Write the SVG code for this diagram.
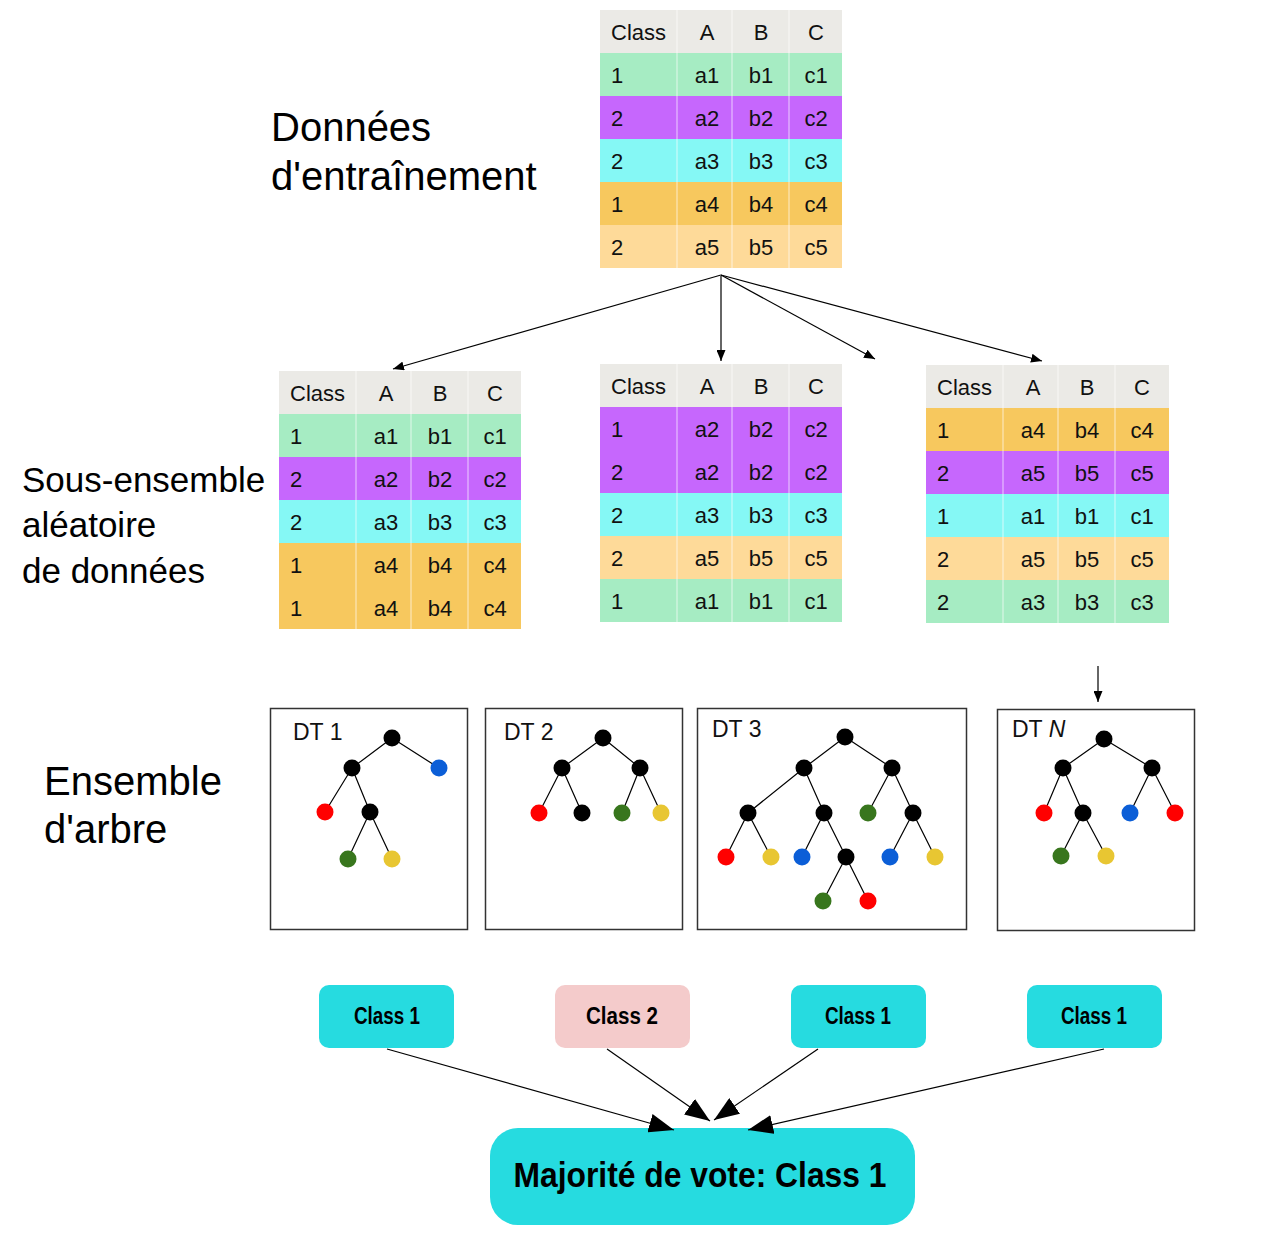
<svg xmlns="http://www.w3.org/2000/svg" width="1288" height="1240" viewBox="0 0 1288 1240">
<defs>
<style>
.hdr{fill:#EBEAE6}.g{fill:#A6ECC3}.p{fill:#C667FD}.c{fill:#85F8F5}.o{fill:#F7C85E}.l{fill:#FEDA99}
.sep{stroke:#FFFFFF;stroke-opacity:0.45;stroke-width:1.5;fill:none}
.t{font-family:"Liberation Sans",Arial,sans-serif;font-size:22px;fill:#111}
.m{text-anchor:middle}
.lab{font-family:"Liberation Sans",Arial,sans-serif;fill:#000}
.box{fill:#FFFFFF;stroke:#333;stroke-width:1.5}
.e{stroke:#000;stroke-width:1.2;fill:none}
.k{fill:#000}.R{fill:#FF0000}.B{fill:#0B5ED7}.G{fill:#38761D}.Y{fill:#E8C632}
.dt{font-family:"Liberation Sans",Arial,sans-serif;font-size:23px;fill:#111}
.cls{font-family:"Liberation Sans",Arial,sans-serif;font-weight:bold;font-size:23px;fill:#000;text-anchor:middle}
.big{font-size:35px}
.cy{fill:#26DBE0}.pk{fill:#F4CBCB}
.a1{stroke:#000;stroke-width:1.2;fill:none}
.a2{stroke:#666;stroke-width:2;fill:none}
</style>
<marker id="ms" markerUnits="userSpaceOnUse" markerWidth="11" markerHeight="9" refX="11" refY="4.5" orient="auto">
<path d="M0,0L11,4.5L0,9z" fill="#000"/>
</marker>
<marker id="ml" markerUnits="userSpaceOnUse" markerWidth="25" markerHeight="19" refX="25" refY="9.5" orient="auto">
<path d="M0,0L25,9.5L0,19z" fill="#000"/>
</marker>
</defs>
<rect width="1288" height="1240" fill="#FFFFFF"/>

<!-- side labels -->
<g id="label-train">
<text class="lab" x="271" y="141" font-size="40">Données</text>
<text class="lab" x="271" y="190" font-size="40">d'entraînement</text>
</g>
<g id="label-subset">
<text class="lab" x="22" y="492" font-size="35">Sous-ensemble</text>
<text class="lab" x="22" y="537" font-size="35">aléatoire</text>
<text class="lab" x="22" y="583" font-size="35">de données</text>
</g>
<g id="label-ensemble">
<text class="lab" x="44" y="795" font-size="40">Ensemble</text>
<text class="lab" x="44" y="843" font-size="40">d'arbre</text>
</g>

<!-- training table -->
<g id="table-train" transform="translate(600,10)">
<rect class="hdr" x="0" y="0" width="242" height="43"/>
<rect class="g" x="0" y="43" width="242" height="43"/>
<rect class="p" x="0" y="86" width="242" height="43"/>
<rect class="c" x="0" y="129" width="242" height="43"/>
<rect class="o" x="0" y="172" width="242" height="43"/>
<rect class="l" x="0" y="215" width="242" height="43"/>
<path class="sep" d="M77,0V258M132,0V258M189,0V258"/>
<text class="t" x="11" y="30">Class</text><text class="t m" x="107" y="30">A</text><text class="t m" x="161" y="30">B</text><text class="t m" x="216" y="30">C</text>
<text class="t" x="11" y="73">1</text><text class="t m" x="107" y="73">a1</text><text class="t m" x="161" y="73">b1</text><text class="t m" x="216" y="73">c1</text>
<text class="t" x="11" y="116">2</text><text class="t m" x="107" y="116">a2</text><text class="t m" x="161" y="116">b2</text><text class="t m" x="216" y="116">c2</text>
<text class="t" x="11" y="159">2</text><text class="t m" x="107" y="159">a3</text><text class="t m" x="161" y="159">b3</text><text class="t m" x="216" y="159">c3</text>
<text class="t" x="11" y="202">1</text><text class="t m" x="107" y="202">a4</text><text class="t m" x="161" y="202">b4</text><text class="t m" x="216" y="202">c4</text>
<text class="t" x="11" y="245">2</text><text class="t m" x="107" y="245">a5</text><text class="t m" x="161" y="245">b5</text><text class="t m" x="216" y="245">c5</text>
</g>

<!-- subset table 1 -->
<g id="table-sub1" transform="translate(279,371)">
<rect class="hdr" x="0" y="0" width="242" height="43"/>
<rect class="g" x="0" y="43" width="242" height="43"/>
<rect class="p" x="0" y="86" width="242" height="43"/>
<rect class="c" x="0" y="129" width="242" height="43"/>
<rect class="o" x="0" y="172" width="242" height="86"/>
<path class="sep" d="M77,0V258M132,0V258M189,0V258"/>
<text class="t" x="11" y="30">Class</text><text class="t m" x="107" y="30">A</text><text class="t m" x="161" y="30">B</text><text class="t m" x="216" y="30">C</text>
<text class="t" x="11" y="73">1</text><text class="t m" x="107" y="73">a1</text><text class="t m" x="161" y="73">b1</text><text class="t m" x="216" y="73">c1</text>
<text class="t" x="11" y="116">2</text><text class="t m" x="107" y="116">a2</text><text class="t m" x="161" y="116">b2</text><text class="t m" x="216" y="116">c2</text>
<text class="t" x="11" y="159">2</text><text class="t m" x="107" y="159">a3</text><text class="t m" x="161" y="159">b3</text><text class="t m" x="216" y="159">c3</text>
<text class="t" x="11" y="202">1</text><text class="t m" x="107" y="202">a4</text><text class="t m" x="161" y="202">b4</text><text class="t m" x="216" y="202">c4</text>
<text class="t" x="11" y="245">1</text><text class="t m" x="107" y="245">a4</text><text class="t m" x="161" y="245">b4</text><text class="t m" x="216" y="245">c4</text>
</g>

<!-- subset table 2 -->
<g id="table-sub2" transform="translate(600,364)">
<rect class="hdr" x="0" y="0" width="242" height="43"/>
<rect class="p" x="0" y="43" width="242" height="86"/>
<rect class="c" x="0" y="129" width="242" height="43"/>
<rect class="l" x="0" y="172" width="242" height="43"/>
<rect class="g" x="0" y="215" width="242" height="43"/>
<path class="sep" d="M77,0V258M132,0V258M189,0V258"/>
<text class="t" x="11" y="30">Class</text><text class="t m" x="107" y="30">A</text><text class="t m" x="161" y="30">B</text><text class="t m" x="216" y="30">C</text>
<text class="t" x="11" y="73">1</text><text class="t m" x="107" y="73">a2</text><text class="t m" x="161" y="73">b2</text><text class="t m" x="216" y="73">c2</text>
<text class="t" x="11" y="116">2</text><text class="t m" x="107" y="116">a2</text><text class="t m" x="161" y="116">b2</text><text class="t m" x="216" y="116">c2</text>
<text class="t" x="11" y="159">2</text><text class="t m" x="107" y="159">a3</text><text class="t m" x="161" y="159">b3</text><text class="t m" x="216" y="159">c3</text>
<text class="t" x="11" y="202">2</text><text class="t m" x="107" y="202">a5</text><text class="t m" x="161" y="202">b5</text><text class="t m" x="216" y="202">c5</text>
<text class="t" x="11" y="245">1</text><text class="t m" x="107" y="245">a1</text><text class="t m" x="161" y="245">b1</text><text class="t m" x="216" y="245">c1</text>
</g>

<!-- subset table 3 -->
<g id="table-sub3" transform="translate(926,365)">
<rect class="hdr" x="0" y="0" width="243" height="43"/>
<rect class="o" x="0" y="43" width="243" height="43"/>
<rect class="p" x="0" y="86" width="243" height="43"/>
<rect class="c" x="0" y="129" width="243" height="43"/>
<rect class="l" x="0" y="172" width="243" height="43"/>
<rect class="g" x="0" y="215" width="243" height="43"/>
<path class="sep" d="M77,0V258M132,0V258M189,0V258"/>
<text class="t" x="11" y="30">Class</text><text class="t m" x="107" y="30">A</text><text class="t m" x="161" y="30">B</text><text class="t m" x="216" y="30">C</text>
<text class="t" x="11" y="73">1</text><text class="t m" x="107" y="73">a4</text><text class="t m" x="161" y="73">b4</text><text class="t m" x="216" y="73">c4</text>
<text class="t" x="11" y="116">2</text><text class="t m" x="107" y="116">a5</text><text class="t m" x="161" y="116">b5</text><text class="t m" x="216" y="116">c5</text>
<text class="t" x="11" y="159">1</text><text class="t m" x="107" y="159">a1</text><text class="t m" x="161" y="159">b1</text><text class="t m" x="216" y="159">c1</text>
<text class="t" x="11" y="202">2</text><text class="t m" x="107" y="202">a5</text><text class="t m" x="161" y="202">b5</text><text class="t m" x="216" y="202">c5</text>
<text class="t" x="11" y="245">2</text><text class="t m" x="107" y="245">a3</text><text class="t m" x="161" y="245">b3</text><text class="t m" x="216" y="245">c3</text>
</g>

<!-- trees -->
<g id="tree-dt1">
<rect class="box" x="270.5" y="708.5" width="197" height="221"/>
<text class="dt" x="293" y="740">DT 1</text>
<path class="e" d="M392,738L352,768M392,738L439,768M352,768L325,812M352,768L370,812M370,812L348,859M370,812L392,859"/>
<circle class="k" cx="392" cy="738" r="8.5"/><circle class="k" cx="352" cy="768" r="8.5"/><circle class="B" cx="439" cy="768" r="8.5"/>
<circle class="R" cx="325" cy="812" r="8.5"/><circle class="k" cx="370" cy="812" r="8.5"/>
<circle class="G" cx="348" cy="859" r="8.5"/><circle class="Y" cx="392" cy="859" r="8.5"/>
</g>
<g id="tree-dt2">
<rect class="box" x="485.5" y="708.5" width="197" height="221"/>
<text class="dt" x="504" y="740">DT 2</text>
<path class="e" d="M603,738L562,768M603,738L640,768M562,768L539,813M562,768L582,813M640,768L622,813M640,768L661,813"/>
<circle class="k" cx="603" cy="738" r="8.5"/><circle class="k" cx="562" cy="768" r="8.5"/><circle class="k" cx="640" cy="768" r="8.5"/>
<circle class="R" cx="539" cy="813" r="8.5"/><circle class="k" cx="582" cy="813" r="8.5"/><circle class="G" cx="622" cy="813" r="8.5"/><circle class="Y" cx="661" cy="813" r="8.5"/>
</g>
<g id="tree-dt3">
<rect class="box" x="697.5" y="708.5" width="269" height="221"/>
<text class="dt" x="712" y="737">DT 3</text>
<path class="e" d="M845,737L804,768M845,737L892,768M804,768L748,813M804,768L824,813M892,768L868,813M892,768L913,813M748,813L726,857M748,813L771,857M824,813L802,857M824,813L846,857M913,813L890,857M913,813L935,857M846,857L823,901M846,857L868,901"/>
<circle class="k" cx="845" cy="737" r="8.5"/><circle class="k" cx="804" cy="768" r="8.5"/><circle class="k" cx="892" cy="768" r="8.5"/>
<circle class="k" cx="748" cy="813" r="8.5"/><circle class="k" cx="824" cy="813" r="8.5"/><circle class="G" cx="868" cy="813" r="8.5"/><circle class="k" cx="913" cy="813" r="8.5"/>
<circle class="R" cx="726" cy="857" r="8.5"/><circle class="Y" cx="771" cy="857" r="8.5"/><circle class="B" cx="802" cy="857" r="8.5"/><circle class="k" cx="846" cy="857" r="8.5"/><circle class="B" cx="890" cy="857" r="8.5"/><circle class="Y" cx="935" cy="857" r="8.5"/>
<circle class="G" cx="823" cy="901" r="8.5"/><circle class="R" cx="868" cy="901" r="8.5"/>
</g>
<g id="tree-dtn">
<rect class="box" x="997.5" y="709.5" width="197" height="221"/>
<text class="dt" x="1012" y="737">DT <tspan font-style="italic">N</tspan></text>
<path class="e" d="M1104,739L1063,768M1104,739L1152,768M1063,768L1044,813M1063,768L1083,813M1152,768L1130,813M1152,768L1175,813M1083,813L1061,856M1083,813L1106,856"/>
<circle class="k" cx="1104" cy="739" r="8.5"/><circle class="k" cx="1063" cy="768" r="8.5"/><circle class="k" cx="1152" cy="768" r="8.5"/>
<circle class="R" cx="1044" cy="813" r="8.5"/><circle class="k" cx="1083" cy="813" r="8.5"/><circle class="B" cx="1130" cy="813" r="8.5"/><circle class="R" cx="1175" cy="813" r="8.5"/>
<circle class="G" cx="1061" cy="856" r="8.5"/><circle class="Y" cx="1106" cy="856" r="8.5"/>
</g>

<!-- class result boxes -->
<g id="vote-1"><rect class="cy" x="319" y="985" width="135" height="63" rx="10"/><text class="cls" x="387" y="1024" textLength="66" lengthAdjust="spacingAndGlyphs">Class 1</text></g>
<g id="vote-2"><rect class="pk" x="555" y="985" width="135" height="63" rx="10"/><text class="cls" x="622" y="1024" textLength="72" lengthAdjust="spacingAndGlyphs">Class 2</text></g>
<g id="vote-3"><rect class="cy" x="791" y="985" width="135" height="63" rx="10"/><text class="cls" x="858" y="1024" textLength="66" lengthAdjust="spacingAndGlyphs">Class 1</text></g>
<g id="vote-n"><rect class="cy" x="1027" y="985" width="135" height="63" rx="10"/><text class="cls" x="1094" y="1024" textLength="66" lengthAdjust="spacingAndGlyphs">Class 1</text></g>

<g id="majority"><rect class="cy" x="490" y="1128" width="425" height="97" rx="28"/>
<text class="cls big" x="700" y="1187" textLength="373" lengthAdjust="spacingAndGlyphs">Majorité de vote: Class 1</text></g>

<!-- connectors -->
<g id="connectors">
<path class="a1" d="M721,275L393,369" marker-end="url(#ms)"/>
<path class="a2" d="M721,275L721,361" marker-end="url(#ms)"/>
<path class="a1" d="M721,275L875,359" marker-end="url(#ms)"/>
<path class="a1" d="M721,275L1042,361" marker-end="url(#ms)"/>
<path class="a2" d="M1098,666L1098,702" marker-end="url(#ms)"/>
<path class="a1" d="M387,1049L674,1130" marker-end="url(#ml)"/>
<path class="a1" d="M607,1049L710,1121" marker-end="url(#ml)"/>
<path class="a1" d="M818,1049L714,1120" marker-end="url(#ml)"/>
<path class="a1" d="M1104,1049L748,1130" marker-end="url(#ml)"/>
</g>
</svg>
